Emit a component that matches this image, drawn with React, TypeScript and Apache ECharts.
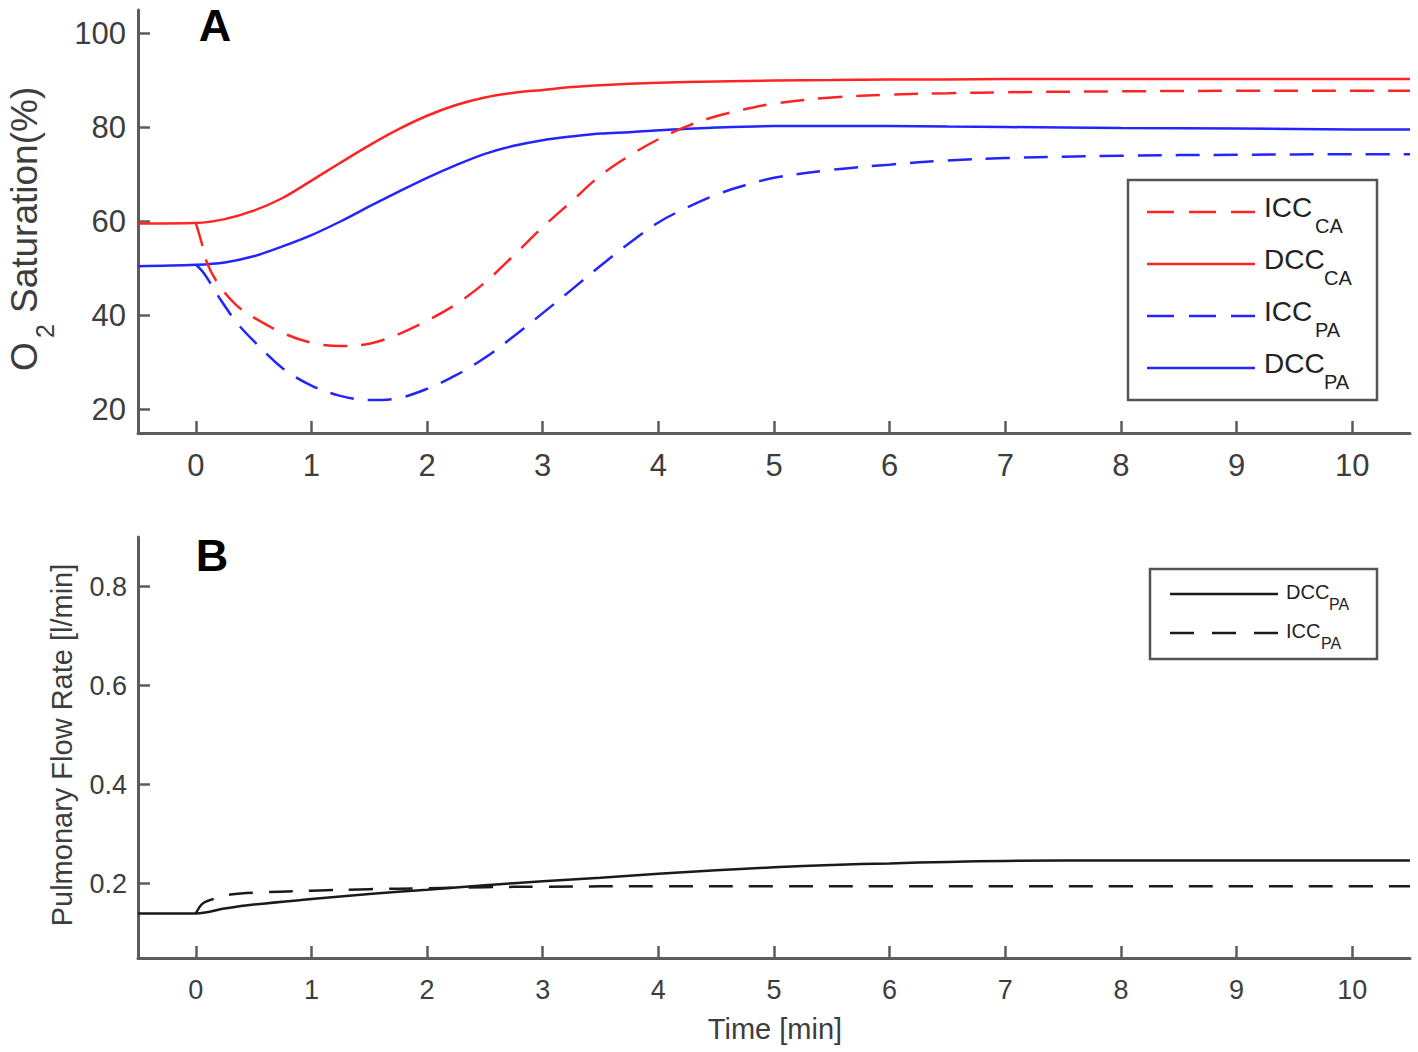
import React, { useEffect, useRef } from "react";
import * as echarts from "echarts";

// ---- Panel A: O2 saturation (%) ----
const timeA = [-0.5, 0, 0.25, 0.5, 0.75, 1, 1.25, 1.5, 1.75, 2, 2.25, 2.5, 2.75, 3, 3.25, 3.5, 3.75, 4, 4.5, 5, 5.5, 6, 6.5, 7, 8, 9, 10, 10.5];
const dccCA = [59.6, 59.7, 60.5, 62.3, 65.0, 68.7, 72.5, 76.2, 79.6, 82.5, 84.8, 86.4, 87.4, 88.0, 88.6, 89.0, 89.3, 89.5, 89.8, 90.0, 90.1, 90.2, 90.2, 90.3, 90.3, 90.3, 90.3, 90.3];
const dccPA = [50.5, 50.8, 51.3, 52.6, 54.7, 57.1, 60.0, 63.2, 66.3, 69.3, 72.0, 74.4, 76.1, 77.3, 78.1, 78.7, 79.0, 79.4, 80.0, 80.3, 80.3, 80.3, 80.2, 80.1, 79.9, 79.8, 79.6, 79.6];

const timeIcc = [0, 0.05, 0.1, 0.2, 0.35, 0.5, 0.75, 1, 1.25, 1.5, 1.75, 2, 2.25, 2.5, 2.75, 3, 3.25, 3.5, 3.75, 4, 4.25, 4.5, 4.75, 5, 5.5, 6, 6.5, 7, 8, 9, 10, 10.5];
const iccCA = [59.7, 55.5, 51.0, 46.5, 42.2, 39.6, 36.3, 34.2, 33.5, 34.0, 36.0, 38.9, 42.4, 47.0, 52.8, 58.8, 64.3, 69.8, 74.0, 77.5, 80.3, 82.4, 83.9, 85.1, 86.4, 87.0, 87.3, 87.5, 87.7, 87.8, 87.8, 87.8];
const iccPA = [50.8, 49.6, 47.9, 43.9, 38.6, 34.6, 28.8, 25.1, 22.9, 22.0, 22.4, 24.4, 27.3, 31.0, 35.6, 40.5, 45.5, 50.6, 55.4, 59.8, 63.0, 65.7, 67.7, 69.3, 71.0, 72.1, 73.0, 73.5, 74.0, 74.2, 74.3, 74.3];

// ---- Panel B: pulmonary flow rate (l/min) ----
const timeB = [-0.5, 0, 0.25, 0.5, 1, 1.5, 2, 2.5, 3, 3.5, 4, 4.5, 5, 5.5, 6, 6.5, 7, 8, 9, 10, 10.5];
const flowDccPA = [0.14, 0.14, 0.15, 0.158, 0.169, 0.179, 0.188, 0.197, 0.205, 0.212, 0.22, 0.227, 0.233, 0.238, 0.241, 0.244, 0.246, 0.247, 0.247, 0.247, 0.247];
const timeBIcc = [0, 0.05, 0.1, 0.3, 0.6, 1, 1.5, 2, 2.5, 3, 4, 5, 6, 7, 8, 9, 10, 10.5];
const flowIccPA = [0.14, 0.158, 0.165, 0.178, 0.183, 0.186, 0.189, 0.191, 0.193, 0.194, 0.195, 0.195, 0.195, 0.195, 0.195, 0.195, 0.195, 0.195];

// ---- ticks ----
const xTicks = [0, 1, 2, 3, 4, 5, 6, 7, 8, 9, 10];
const yTicksA = [20, 40, 60, 80, 100];
const yTicksB = [0.2, 0.4, 0.6, 0.8];

const RED = "#ff2424";
const BLUE = "#2424ff";
const BLACK = "#1a1a1a";
const AXIS = "#5c5c5c";
const TXT = "#3d3d3d";
const FONT = "'Liberation Sans', Arial, Helvetica, sans-serif";

const pair = (t: number[], v: number[]) => t.map((x, i) => [x, v[i]]);

export default function App() {
  const ref = useRef<HTMLDivElement>(null);
  useEffect(() => {
    const chart = echarts.init(ref.current!, null, { renderer: "svg" });

    const xAxisFor = (gi: number, fs: number, margin: number) => ({
      type: "value",
      gridIndex: gi,
      min: -0.5,
      max: 10.5,
      axisLine: { onZero: false, lineStyle: { color: AXIS, width: 3 } },
      axisTick: { inside: true, length: 12, customValues: xTicks, lineStyle: { color: AXIS, width: 2.5 } },
      axisLabel: { customValues: xTicks, fontSize: fs, color: TXT, fontFamily: FONT, margin },
      splitLine: { show: false },
    });
    const yAxisFor = (gi: number, min: number, max: number, ticks: number[], fs: number, margin: number) => ({
      type: "value",
      gridIndex: gi,
      min,
      max,
      axisLine: { show: true, onZero: false, lineStyle: { color: AXIS, width: 3 } },
      axisTick: { show: true, inside: true, length: 12, customValues: ticks, lineStyle: { color: AXIS, width: 2.5 } },
      axisLabel: { customValues: ticks, fontSize: fs, color: TXT, fontFamily: FONT, margin },
      splitLine: { show: false },
    });

    const line = (name: string, data: number[][], color: string, dashed: number[] | null, xi: number, w = 2.5) => ({
      name,
      type: "line",
      xAxisIndex: xi,
      yAxisIndex: xi,
      data,
      showSymbol: false,
      symbol: "none",
      smooth: 0.35,
      lineStyle: { color, width: w, type: dashed || "solid" },
      z: 3,
    });

    const legendText = (x: number, y: number, main: string, fs: number, sub: string, subX: number, subY: number, subFs: number) => [
      { type: "text", x, y, style: { text: main, fontSize: fs, fontFamily: FONT, fill: "#222", align: "left", verticalAlign: "middle" } },
      { type: "text", x: subX, y: subY, style: { text: sub, fontSize: subFs, fontFamily: FONT, fill: "#222", align: "left", verticalAlign: "middle" } },
    ];

    const legA = [
      { y: 212, main: "ICC", sub: "CA", subX: 1315, color: RED, dash: [27, 15] },
      { y: 264, main: "DCC", sub: "CA", subX: 1324, color: RED, dash: null },
      { y: 316, main: "ICC", sub: "PA", subX: 1315, color: BLUE, dash: [27, 15] },
      { y: 368, main: "DCC", sub: "PA", subX: 1324, color: BLUE, dash: null },
    ];
    const legB = [
      { y: 594, main: "DCC", sub: "PA", subX: 1329, dash: null },
      { y: 633, main: "ICC", sub: "PA", subX: 1321, dash: [24, 18] },
    ];

    const graphic: any[] = [
      // panel letters
      { type: "text", x: 215, y: 25, style: { text: "A", fontSize: 45, fontWeight: "bold", fontFamily: FONT, fill: "#000", align: "center", verticalAlign: "middle" } },
      { type: "text", x: 212, y: 555, style: { text: "B", fontSize: 45, fontWeight: "bold", fontFamily: FONT, fill: "#000", align: "center", verticalAlign: "middle" } },
      // y title A
      { type: "text", x: 24, y: 371, rotation: Math.PI / 2, style: { text: "O", fontSize: 37, fontFamily: FONT, fill: TXT, align: "left", verticalAlign: "middle" } },
      { type: "text", x: 45, y: 338, rotation: Math.PI / 2, style: { text: "2", fontSize: 25, fontFamily: FONT, fill: TXT, align: "left", verticalAlign: "middle" } },
      { type: "text", x: 24, y: 313, rotation: Math.PI / 2, style: { text: "Saturation(%)", fontSize: 37, fontFamily: FONT, fill: TXT, align: "left", verticalAlign: "middle" } },
      // y title B
      { type: "text", x: 62, y: 745, rotation: Math.PI / 2, style: { text: "Pulmonary Flow Rate [l/min]", fontSize: 29, fontFamily: FONT, fill: TXT, align: "center", verticalAlign: "middle" } },
      // x title
      { type: "text", x: 775, y: 1029, style: { text: "Time [min]", fontSize: 29, fontFamily: FONT, fill: TXT, align: "center", verticalAlign: "middle" } },
      // legend A box
      { type: "rect", shape: { x: 1128, y: 180, width: 249, height: 220 }, style: { fill: "#fff", stroke: "#555", lineWidth: 2.5 }, z: 10 },
      // legend B box
      { type: "rect", shape: { x: 1150, y: 569, width: 227, height: 90 }, style: { fill: "#fff", stroke: "#555", lineWidth: 2.5 }, z: 10 },
    ];
    legA.forEach((e) => {
      graphic.push({ type: "line", shape: { x1: 1147, y1: e.y, x2: 1255, y2: e.y }, style: { stroke: e.color, lineWidth: 2.5, lineDash: e.dash || undefined }, z: 11 });
      legendText(1264, e.y - 5, e.main, 28, e.sub, e.subX, e.y + 14, 20).forEach((t) => graphic.push({ ...t, z: 11 }));
    });
    legB.forEach((e) => {
      graphic.push({ type: "line", shape: { x1: 1170, y1: e.y, x2: 1278, y2: e.y }, style: { stroke: BLACK, lineWidth: 2.5, lineDash: e.dash || undefined }, z: 11 });
      legendText(1286, e.y - 2, e.main, 20, e.sub, e.subX, e.y + 10, 16).forEach((t) => graphic.push({ ...t, z: 11 }));
    });

    const option: any = {
      animation: false,
      backgroundColor: "#ffffff",
      textStyle: { fontFamily: FONT },
      grid: [
        { left: 138, top: 10, width: 1272, height: 423 },
        { left: 138, top: 537, width: 1272, height: 421 },
      ],
      xAxis: [xAxisFor(0, 31, 17), xAxisFor(1, 27, 18)],
      yAxis: [yAxisFor(0, 15, 105, yTicksA, 31, 12), yAxisFor(1, 0.05, 0.9, yTicksB, 27, 11)],
      series: [
        line("DCC_CA", pair(timeA, dccCA), RED, null, 0),
        line("DCC_PA", pair(timeA, dccPA), BLUE, null, 0),
        line("ICC_CA", pair(timeIcc, iccCA), RED, [24, 14], 0),
        line("ICC_PA", pair(timeIcc, iccPA), BLUE, [24, 14], 0),
        line("DCC_PA flow", pair(timeB, flowDccPA), BLACK, null, 1),
        line("ICC_PA flow", pair(timeBIcc, flowIccPA), BLACK, [24, 16], 1),
      ],
      graphic,
    };
    chart.setOption(option);
    return () => chart.dispose();
  }, []);

  return <div ref={ref} style={{ position: "fixed", left: 0, top: 0, width: 1418, height: 1052, background: "#fff" }} />;
}
